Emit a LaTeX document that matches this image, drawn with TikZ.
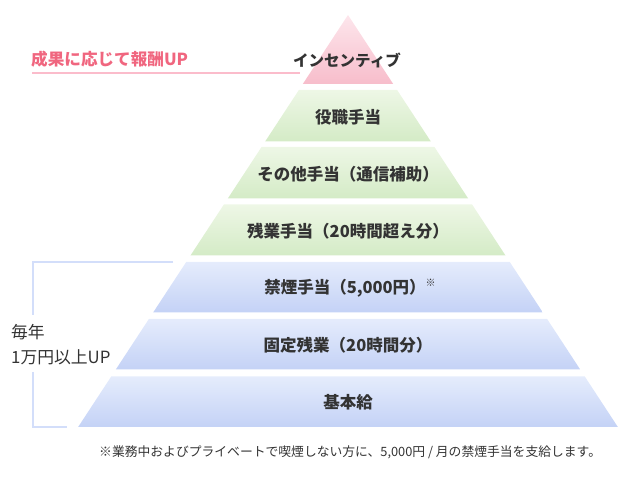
\documentclass[tikz,border=0pt]{standalone}
\usepackage{fontspec}
\setmainfont{Noto Sans CJK JP}
\usetikzlibrary{calc}
\definecolor{txt}{HTML}{333333}
\definecolor{pinkT}{HTML}{FDE6EC}
\definecolor{pinkB}{HTML}{F7BDCB}
\definecolor{greenT}{HTML}{EEF7E6}
\definecolor{greenB}{HTML}{D4EBC6}
\definecolor{blueT}{HTML}{E5ECFC}
\definecolor{blueB}{HTML}{C4D2F6}
\definecolor{pinktext}{HTML}{F0667F}
\definecolor{pinkline}{HTML}{FBBCCB}
\definecolor{bracket}{HTML}{D3DEFA}
\tikzset{
  tier/.style={font=\fontsize{16.5}{19}\selectfont\bfseries, text=txt, inner sep=0pt},
  side/.style={font=\fontsize{16.8}{19}\selectfont, text=txt, inner sep=0pt, anchor=west},
  note/.style={font=\fontsize{12.8}{15}\selectfont, text=txt, inner sep=0pt, anchor=west},
}
\newcommand{\hwof}[1]{0.655*(#1-15)}
\newcommand{\band}[4]{% top, bottom, topcolor, bottomcolor
  \shade[top color=#3, bottom color=#4]
    ({348-\hwof{#1}},#1) -- ({348+\hwof{#1}},#1) -- ({348+\hwof{#2}},#2) -- ({348-\hwof{#2}},#2) -- cycle;}
\begin{document}
\begin{tikzpicture}[x=1pt,y=-1pt]
\useasboundingbox (0,0) rectangle (635,494);
% pink apex
\shade[top color=pinkT, bottom color=pinkB] (348,15) -- ({348+\hwof{84}},84) -- ({348-\hwof{84}},84) -- cycle;
\band{90}{141.5}{greenT}{greenB}
\band{147}{198.5}{greenT}{greenB}
\band{204.5}{255.5}{greenT}{greenB}
\band{262}{312.5}{blueT}{blueB}
\band{319}{369.5}{blueT}{blueB}
\band{376.5}{427}{blueT}{blueB}
% pink label
\draw[pinkline, line width=2.7pt] (32,73) coordinate (pl1) -- (300,73) coordinate (pl2);
\node[inner sep=0pt, anchor=west, text=pinktext, font=\fontsize{16.6}{19}\selectfont\bfseries] (perf) at (31,59) {成果に応じて報酬UP};
% bracket
\draw[bracket, line width=2.5pt] (173,262) coordinate (b1) -- (33,262) -- (33,315);
\draw[bracket, line width=2.5pt] (33,372) -- (33,427) -- (67,427) coordinate (b2);
% tier texts
\node[tier, font=\fontsize{15.5}{18}\selectfont\bfseries] (t1) at (347,60) {インセンティブ};
\node[tier] (t2) at (348,117) {役職手当};
\node[tier] (t3) at (348,174) {その他手当（通信補助）};
\node[tier] (t4) at (348,231) {残業手当（20時間超え分）};
\node[tier] (t5) at (350,288) {禁煙手当（5,000円）\raisebox{0.45em}{\fontsize{10}{12}\selectfont ※}};
\node[tier] (t6) at (348,345) {固定残業（20時間分）};
\node[tier] (t7) at (348,402) {基本給};
% side labels
\node[side] (s1) at (11,332) {毎年};
\node[side] (s2) at (11,357) {1万円以上UP};
% footnote
\node[note] (fn) at (99,452) {※業務中およびプライベートで喫煙しない方に、5,000円 / 月の禁煙手当を支給します。};
\end{tikzpicture}
\end{document}
